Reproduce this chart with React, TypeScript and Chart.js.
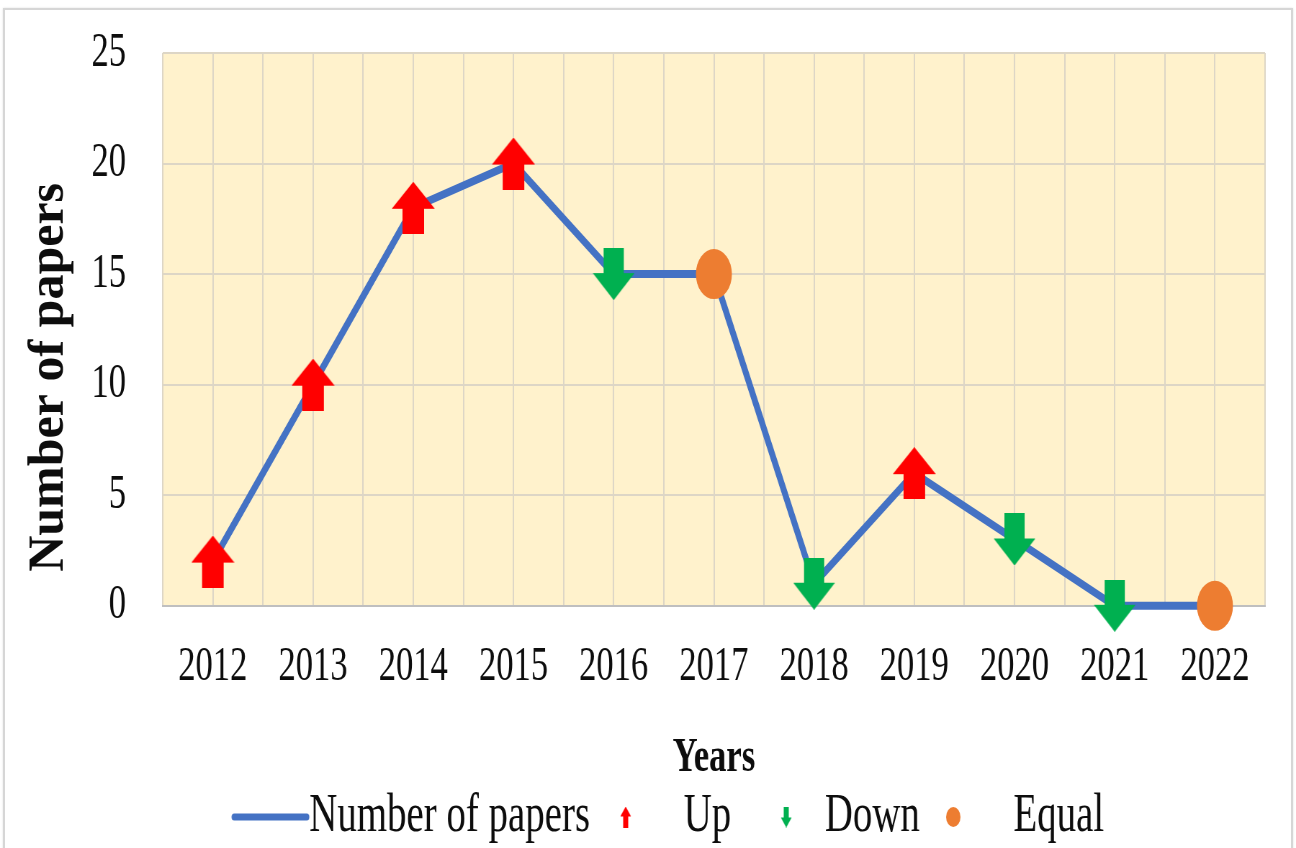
import { useEffect, useRef } from 'react';
import { Chart, registerables } from 'chart.js';

Chart.register(...registerables);

// Publications per year and the direction of change for each year
const years = ['2012', '2013', '2014', '2015', '2016', '2017', '2018', '2019', '2020', '2021', '2022'];
const papers = [2, 10, 18, 20, 15, 15, 1, 6, 3, 0, 0];
const trends = ['up', 'up', 'up', 'up', 'down', 'equal', 'down', 'up', 'down', 'down', 'equal'];
const yTickValues = [0, 5, 10, 15, 20, 25];
const legendNames = ['Number of papers', 'Up', 'Down', 'Equal'];
const xTitle = 'Years';
const yTitle = 'Number of papers';

// The canvas is drawn wide and squeezed horizontally for a condensed look
const SQUEEZE = 0.72;
const CW = 1800;
const CH = 848;

const LINE_COLOR = '#4472C4';
const UP_COLOR = '#FF0000';
const DOWN_COLOR = '#00B050';
const EQUAL_COLOR = '#ED7D31';
const PLOT_BG = '#FFF2CC';
const GRID_COLOR = '#DDD6C6';
const TEXT_COLOR = '#0d0d0d';
const FONT = '"Liberation Serif", "Times New Roman", serif';

type ArrowSpec = {
  width: number;
  height: number;
  shaft: number;
  head: number;
  color: string;
  up: boolean;
  canvasWidth?: number;
  centerX?: number;
};

function makeArrow(s: ArrowSpec): HTMLCanvasElement {
  const cw = s.canvasWidth ?? s.width;
  const cx = s.centerX ?? cw / 2;
  const c = document.createElement('canvas');
  c.width = cw;
  c.height = s.height;
  const g = c.getContext('2d')!;
  const pts: [number, number][] = [
    [cx, 0],
    [cx + s.width / 2, s.head],
    [cx + s.shaft / 2, s.head],
    [cx + s.shaft / 2, s.height],
    [cx - s.shaft / 2, s.height],
    [cx - s.shaft / 2, s.head],
    [cx - s.width / 2, s.head],
  ];
  g.beginPath();
  pts.forEach(([x, y], i) => {
    const yy = s.up ? y : s.height - y;
    if (i === 0) g.moveTo(x, yy);
    else g.lineTo(x, yy);
  });
  g.closePath();
  g.fillStyle = s.color;
  g.fill();
  return c;
}

function makeLegendLine(canvasWidth: number, x0: number, x1: number): HTMLCanvasElement {
  const c = document.createElement('canvas');
  c.width = canvasWidth;
  c.height = 12;
  const g = c.getContext('2d')!;
  g.strokeStyle = LINE_COLOR;
  g.lineWidth = 7;
  g.lineCap = 'round';
  g.beginPath();
  g.moveTo(x0, 6);
  g.lineTo(x1, 6);
  g.stroke();
  return c;
}

function makeLegendDot(canvasWidth: number, cx: number, r: number): HTMLCanvasElement {
  const c = document.createElement('canvas');
  c.width = canvasWidth;
  c.height = r * 2 + 2;
  const g = c.getContext('2d')!;
  g.fillStyle = EQUAL_COLOR;
  g.beginPath();
  g.arc(cx, r + 1, r, 0, Math.PI * 2);
  g.fill();
  return c;
}

const plotBackground = {
  id: 'plotBackground',
  beforeDraw(chart: any) {
    const { ctx, chartArea } = chart;
    ctx.save();
    ctx.fillStyle = PLOT_BG;
    ctx.fillRect(chartArea.left, chartArea.top, chartArea.width, chartArea.height);
    ctx.restore();
  },
};

// Vertical axis title, counter-scaled so its letters keep their normal height
const verticalTitle = {
  id: 'verticalTitle',
  afterDraw(chart: any) {
    const { ctx, chartArea } = chart;
    ctx.save();
    ctx.translate(69, (chartArea.top + chartArea.bottom) / 2 + 48);
    ctx.scale(1 / SQUEEZE, 1);
    ctx.rotate(-Math.PI / 2);
    ctx.font = `bold 50px ${FONT}`;
    ctx.fillStyle = TEXT_COLOR;
    ctx.textAlign = 'center';
    ctx.textBaseline = 'middle';
    ctx.fillText(yTitle, 0, 0);
    ctx.restore();
  },
};

export default function App() {
  const ref = useRef<HTMLCanvasElement | null>(null);

  useEffect(() => {
    if (!ref.current) return;

    const upMarker = makeArrow({ width: 60, height: 52, shaft: 30, head: 27, color: UP_COLOR, up: true });
    const downMarker = makeArrow({ width: 58, height: 52, shaft: 28, head: 27, color: DOWN_COLOR, up: false });

    // Legend symbols: each box is 103 wide; its text starts at x = 198 of a 240-wide symbol image
    const LEG_W = 240;
    const legendLine = makeLegendLine(LEG_W, 94, 195);
    const legendUp = makeArrow({ width: 15, height: 21, shaft: 7, head: 10, color: UP_COLOR, up: true, canvasWidth: LEG_W, centerX: 118 });
    const legendDown = makeArrow({ width: 15, height: 21, shaft: 7, head: 10, color: DOWN_COLOR, up: false, canvasWidth: LEG_W, centerX: 145 });
    const legendDot = makeLegendDot(LEG_W, 115, 10);
    const legendSymbols = [legendLine, legendUp, legendDown, legendDot];

    const pointStyles = trends.map((t) => (t === 'up' ? upMarker : t === 'down' ? downMarker : 'circle'));

    const chart = new Chart(ref.current, {
      type: 'line',
      data: {
        datasets: [
          {
            label: legendNames[0],
            data: papers.map((v, i) => ({ x: i, y: v })),
            borderColor: LINE_COLOR,
            borderWidth: 8,
            tension: 0,
            clip: false as any,
            pointStyle: pointStyles as any,
            pointRadius: trends.map((t) => (t === 'equal' ? 25 : 26)),
            pointBackgroundColor: EQUAL_COLOR,
            pointBorderColor: EQUAL_COLOR,
            pointBorderWidth: 0,
          },
        ],
      },
      options: {
        animation: false,
        responsive: false,
        devicePixelRatio: 1,
        events: [],
        layout: { autoPadding: false, padding: { left: 76, right: 43, top: 53, bottom: -6 } },
        scales: {
          x: {
            type: 'linear',
            min: -0.5,
            max: years.length - 0.5,
            grid: { color: GRID_COLOR, lineWidth: 2, drawTicks: false },
            border: { display: true, color: '#BFBFBF', width: 2 },
            ticks: {
              stepSize: 0.5,
              maxTicksLimit: 40,
              autoSkip: false,
              maxRotation: 0,
              padding: 33,
              color: TEXT_COLOR,
              font: { family: FONT, size: 48 },
              callback: (v: any) => (Number.isInteger(v) && years[v] ? years[v] : ''),
            },
            title: {
              display: true,
              text: xTitle,
              color: TEXT_COLOR,
              font: { family: FONT, size: 48, weight: 'bold' },
              padding: { top: 0, bottom: 3 },
            },
          },
          y: {
            min: 0,
            max: 25,
            afterBuildTicks: (axis: any) => {
              axis.ticks = yTickValues.map((v) => ({ value: v }));
            },
            // the label gap should only widen the axis, not push the plot down
            afterFit: (axis: any) => {
              axis.paddingTop = 0;
              axis.paddingBottom = 0;
            },
            grid: {
              color: (c: any) => (c.tick && c.tick.value === 0 ? '#BFBFBF' : GRID_COLOR),
              lineWidth: 2,
              drawTicks: false,
            },
            border: { display: false },
            ticks: {
              padding: 51,
              color: TEXT_COLOR,
              font: { family: FONT, size: 48 },
            },
          },
        },
        plugins: {
          tooltip: { enabled: false },
          legend: {
            position: 'bottom',
            labels: {
              usePointStyle: true,
              pointStyleWidth: 103,
              boxWidth: 103,
              boxHeight: 20,
              padding: 0,
              color: TEXT_COLOR,
              font: { family: FONT, size: 54 },
              generateLabels: () =>
                legendNames.map((name, i) => ({
                  text: name,
                  pointStyle: legendSymbols[i] as any,
                  fillStyle: 'transparent',
                  strokeStyle: 'transparent',
                  lineWidth: 0,
                  hidden: false,
                  datasetIndex: 0,
                  fontColor: TEXT_COLOR,
                })),
            },
          },
        },
      },
      plugins: [plotBackground, verticalTitle],
    });

    return () => chart.destroy();
  }, []);

  return (
    <div
      style={{
        position: 'fixed',
        left: 0,
        top: 0,
        width: 1296,
        height: 848,
        background: '#ffffff',
        overflow: 'hidden',
      }}
    >
      <div
        style={{
          position: 'absolute',
          left: 0,
          top: 0,
          width: CW,
          height: CH,
          transform: `scaleX(${SQUEEZE})`,
          transformOrigin: '0 0',
        }}
      >
        <canvas ref={ref} width={CW} height={CH} style={{ display: 'block', width: CW, height: CH }} />
      </div>
      <div
        style={{
          position: 'absolute',
          left: 3,
          top: 8,
          width: 1290,
          height: 900,
          border: '2px solid #D6D6D6',
          boxSizing: 'border-box',
          boxShadow: '0 0 2px rgba(0,0,0,0.12)',
          pointerEvents: 'none',
        }}
      />
    </div>
  );
}
